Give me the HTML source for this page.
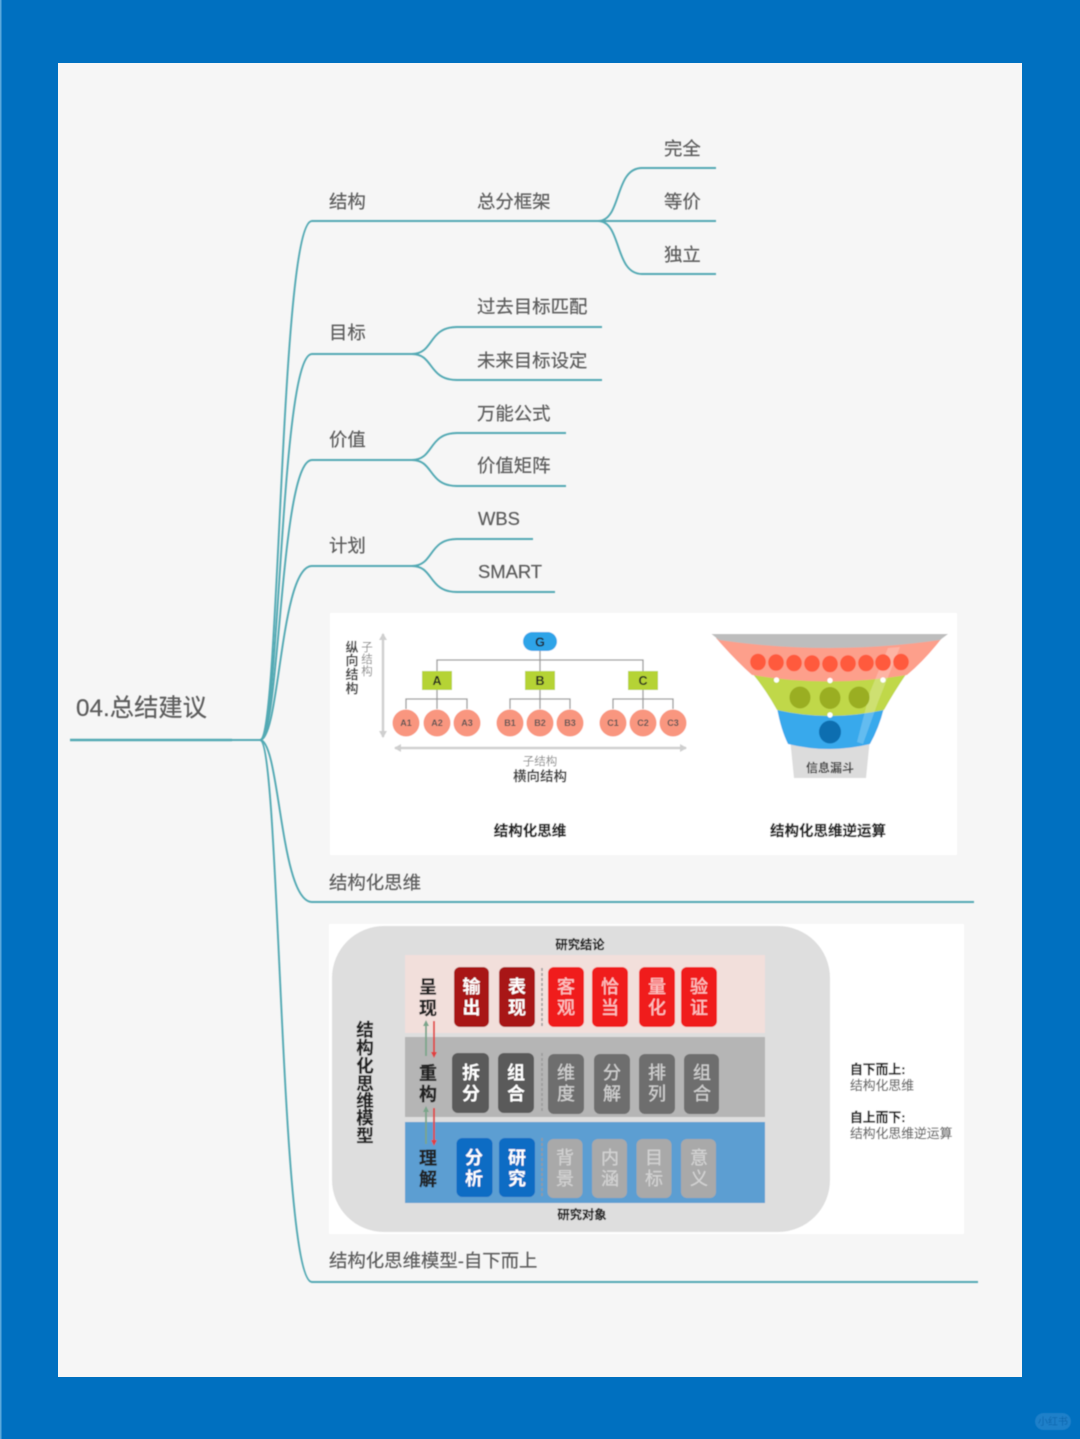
<!DOCTYPE html>
<html lang="zh">
<head>
<meta charset="utf-8">
<title>04.总结建议</title>
<style>
html,body{margin:0;padding:0;background:#0070c0;}
svg{display:block;}
text{font-family:"Liberation Sans","Noto Sans CJK SC",sans-serif;}
.n{font-size:18.4px;fill:#5c5c5c;stroke:#5c5c5c;stroke-width:.2px;}
.b{filter:url(#bl);}
.t{font-size:18px;font-weight:700;text-anchor:middle;fill:#fff;}
.pr{font-weight:400;fill:#fbc4c4;stroke:#fbc4c4;stroke-width:.25px;}
.pg{font-weight:400;fill:#cfcfcf;stroke:#cfcfcf;stroke-width:.25px;}
.pl{font-weight:400;fill:#d2d2d2;stroke:#d2d2d2;stroke-width:.25px;}
.l{font-size:18px;font-weight:700;text-anchor:middle;fill:#222;stroke:#222;stroke-width:.3px;}
.o{font-size:9px;font-weight:700;text-anchor:middle;fill:#555;}
.ln{fill:none;stroke:#52a9b3;stroke-width:1.9;}
.h{font-weight:700;fill:#222;text-anchor:middle;stroke:#222;stroke-width:.2px;}
</style>
</head>
<body>
<svg xmlns="http://www.w3.org/2000/svg" width="1080" height="1439" viewBox="0 0 1080 1439">
<defs>
<filter id="bl" x="-5%" y="-5%" width="110%" height="110%"><feGaussianBlur stdDeviation="0.65"/></filter>
</defs>
<rect width="1080" height="1439" fill="#0070c0"/>
<rect x="0" y="0" width="1.5" height="1439" fill="#5aa8dc"/>
<rect x="58" y="63" width="964" height="1314" fill="#f6f6f6"/>

<g class="b">
<!-- connectors -->
<path class="ln" d="M70 740H232" style="stroke-width:2.4"/>
<path class="ln" d="M232 740H260"/>
<path class="ln" d="M260 740C280 740 280 221 312 221H600"/>
<path class="ln" d="M260 740C280 740 280 354 312 354H414"/>
<path class="ln" d="M260 740C280 740 280 460 312 460H414"/>
<path class="ln" d="M260 740C280 740 280 566 312 566H414"/>
<path class="ln" d="M260 740C280 740 280 902 312 902H974"/>
<path class="ln" d="M260 740C280 740 280 1282 312 1282H978"/>
<path class="ln" d="M598 221C622 221 614 168 642 168H716"/>
<path class="ln" d="M598 221H716"/>
<path class="ln" d="M598 221C622 221 614 274 642 274H716"/>
<path class="ln" d="M412 354C434 354 428 327 457 327H602"/>
<path class="ln" d="M412 354C434 354 428 380 457 380H602"/>
<path class="ln" d="M412 460C434 460 428 433 457 433H566"/>
<path class="ln" d="M412 460C434 460 428 486 457 486H566"/>
<path class="ln" d="M412 566C434 566 428 539 457 539H533"/>
<path class="ln" d="M412 566C434 566 428 592 457 592H555"/>

<!-- labels -->
<text x="76" y="716" style="font-size:24.3px;fill:#5c5c5c;stroke:#5c5c5c;stroke-width:.2px">04.总结建议</text>
<text class="n" x="329" y="208">结构</text>
<text class="n" x="477" y="208">总分框架</text>
<text class="n" x="664" y="155">完全</text>
<text class="n" x="664" y="208">等价</text>
<text class="n" x="664" y="261">独立</text>
<text class="n" x="329" y="339">目标</text>
<text class="n" x="477" y="313">过去目标匹配</text>
<text class="n" x="477" y="367">未来目标设定</text>
<text class="n" x="329" y="446">价值</text>
<text class="n" x="477" y="420">万能公式</text>
<text class="n" x="477" y="472">价值矩阵</text>
<text class="n" x="329" y="552">计划</text>
<text class="n" x="478" y="525">WBS</text>
<text class="n" x="478" y="578">SMART</text>
<text class="n" x="329" y="889">结构化思维</text>
<text class="n" x="329" y="1267">结构化思维模型-自下而上</text>

<!-- image 1 -->
<rect x="330" y="613" width="627" height="242" fill="#fff"/>
<g fill="none" stroke="#9a9a9a" stroke-width="1.3">
<path d="M540 651V671M437 671V660H643V671"/>
<path d="M437 690V709M406 709V699H467V709"/>
<path d="M540 690V709M510 709V699H570V709"/>
<path d="M643 690V709M613 709V699H673V709"/>
</g>
<rect x="523" y="632" width="34" height="19" rx="9.5" fill="#2ea4e8"/>
<text x="540" y="646.5" style="font-size:12.5px;font-weight:700;fill:#222;text-anchor:middle">G</text>
<g fill="#b5d334">
<rect x="422" y="671" width="30" height="19"/>
<rect x="525" y="671" width="30" height="19"/>
<rect x="628" y="671" width="30" height="19"/>
</g>
<g style="font-size:12.5px;font-weight:700;fill:#222;text-anchor:middle">
<text x="437" y="685">A</text><text x="540" y="685">B</text><text x="643" y="685">C</text>
</g>
<g fill="#f9967f">
<circle cx="406" cy="723" r="13.5"/><circle cx="437" cy="723" r="13.5"/><circle cx="467" cy="723" r="13.5"/>
<circle cx="510" cy="723" r="13.5"/><circle cx="540" cy="723" r="13.5"/><circle cx="570" cy="723" r="13.5"/>
<circle cx="613" cy="723" r="13.5"/><circle cx="643" cy="723" r="13.5"/><circle cx="673" cy="723" r="13.5"/>
</g>
<g>
<text class="o" x="406" y="726">A1</text><text class="o" x="437" y="726">A2</text><text class="o" x="467" y="726">A3</text>
<text class="o" x="510" y="726">B1</text><text class="o" x="540" y="726">B2</text><text class="o" x="570" y="726">B3</text>
<text class="o" x="613" y="726">C1</text><text class="o" x="643" y="726">C2</text><text class="o" x="673" y="726">C3</text>
</g>
<path d="M383 634V737" stroke="#cfcfcf" stroke-width="2.5"/>
<path d="M379 640L383 633L387 640ZM379 731L383 738L387 731Z" fill="#cfcfcf"/>
<path d="M395 748H686" stroke="#cfcfcf" stroke-width="2.5"/>
<path d="M401 744L394 748L401 752ZM680 744L687 748L680 752Z" fill="#cfcfcf"/>
<g style="font-size:13px;font-weight:700;fill:#444;text-anchor:middle">
<text x="352" y="652">纵</text><text x="352" y="665">向</text><text x="352" y="679">结</text><text x="352" y="693">构</text>
</g>
<g style="font-size:11.500px;fill:#888;text-anchor:middle">
<text x="367" y="651">子</text><text x="367" y="663">结</text><text x="367" y="675">构</text>
<text x="540" y="765">子结构</text>
</g>
<text x="540" y="781" style="font-size:13.500px;fill:#444;font-weight:700;text-anchor:middle">横向结构</text>
<text class="h" x="530" y="836" style="font-size:14.500px">结构化思维</text>
<text class="h" x="828" y="836" style="font-size:14.500px">结构化思维逆运算</text>

<!-- funnel -->
<path d="M790 738Q829 752 870 738L866 778H794Z" fill="#dcdcdc"/>
<path d="M777 708Q781 730 788 744Q829 754 870 744Q879 728 884 708Q829 722 777 708Z" fill="#38a9ec"/>
<path d="M752 673Q766 690 777 710Q829 722 884 710Q894 692 907 673Q829 688 752 673Z" fill="#c0d84a"/>
<path d="M716 638Q735 660 752 675Q829 688 907 675Q925 660 942 638Z" fill="#fd9f8b"/>
<path d="M711.500 634H948L940 640Q829 656 719 640Z" fill="#bdbdbd"/>
<path d="M888 648L870 692L857 742L863 744L878 702L900 647Z" fill="#fff" opacity=".22"/>
<g fill="#ff5a3c">
<ellipse cx="758" cy="662" rx="7.800" ry="8.300"/><ellipse cx="776" cy="662.500" rx="7.800" ry="8.300"/><ellipse cx="794" cy="663" rx="7.800" ry="8.300"/>
<ellipse cx="812" cy="663.500" rx="7.800" ry="8.300"/><ellipse cx="830" cy="664" rx="7.800" ry="8.300"/><ellipse cx="848" cy="663.500" rx="7.800" ry="8.300"/>
<ellipse cx="866" cy="663" rx="7.800" ry="8.300"/><ellipse cx="883" cy="662.500" rx="7.800" ry="8.300"/><ellipse cx="901" cy="662" rx="7.800" ry="8.300"/>
</g>
<g fill="#9aae24">
<ellipse cx="800" cy="697.500" rx="10.500" ry="11"/><ellipse cx="830" cy="698" rx="10.500" ry="11"/><ellipse cx="859" cy="697.500" rx="10.500" ry="11"/>
</g>
<ellipse cx="830" cy="732" rx="11" ry="11.500" fill="#0a6eb0"/>
<g fill="#fff">
<circle cx="776.500" cy="680" r="2.700"/><circle cx="830" cy="680.500" r="2.700"/><circle cx="883" cy="680" r="2.700"/><circle cx="830" cy="715" r="2.700"/>
</g>
<text x="830" y="772" style="font-size:12px;font-weight:700;fill:#444;text-anchor:middle">信息漏斗</text>

<!-- image 2 -->
<rect x="329" y="924" width="635" height="310" fill="#fff"/>
<rect x="332" y="926" width="498" height="306" rx="52" fill="#dedede"/>
<rect x="405" y="955" width="360" height="78" fill="#f2dfdb"/>
<rect x="405" y="1037" width="360" height="80" fill="#b5b5b5"/>
<rect x="405" y="1122" width="360" height="81" fill="#5b9ed2"/>

<text class="h" x="580" y="949" style="font-size:12.300px">研究结论</text>
<text class="h" x="582" y="1219" style="font-size:12.300px">研究对象</text>

<g class="h" style="font-size:17.500px">
<text x="365" y="1036">结</text><text x="365" y="1054">构</text><text x="365" y="1072">化</text><text x="365" y="1090">思</text><text x="365" y="1107">维</text><text x="365" y="1124">模</text><text x="365" y="1142">型</text>
</g>

<text class="l" x="428" y="993.500">呈</text><text class="l" x="428" y="1014.500">现</text>
<text class="l" x="428" y="1079.500">重</text><text class="l" x="428" y="1100.500">构</text>
<text class="l" x="428" y="1164.500">理</text><text class="l" x="428" y="1185.500">解</text>

<g stroke-width="1.800" fill="none">
<path d="M426 1024V1056M426 1108V1144" stroke="#7aa58a"/>
<path d="M434 1021V1054M434 1108V1142" stroke="#e04040"/>
</g>
<path d="M423 1026L426 1020L429 1026ZM423 1112L426 1106L429 1112Z" fill="#7aa58a"/>
<path d="M431 1052L434 1058L437 1052ZM431 1140L434 1146L437 1140Z" fill="#e04040"/>
<g stroke="#999" stroke-width="1.500" stroke-dasharray="3 2">
<path d="M542 968V1026M542 1053V1112M542 1138V1196"/>
</g>

<!-- row 1 -->
<g fill="#a81818">
<rect x="454" y="967" width="35" height="60" rx="6"/><rect x="499" y="967" width="36" height="60" rx="6"/>
</g>
<g fill="#f01c1f">
<rect x="548" y="967" width="36" height="60" rx="6"/><rect x="592" y="967" width="36" height="60" rx="6"/>
<rect x="639" y="967" width="36" height="60" rx="6"/><rect x="681" y="967" width="36" height="60" rx="6"/>
</g>
<text class="t" x="471.500" y="993">输</text><text class="t" x="471.500" y="1014">出</text>
<text class="t" x="517" y="993">表</text><text class="t" x="517" y="1014">现</text>
<text class="t pr" x="566" y="993">客</text><text class="t pr" x="566" y="1014">观</text>
<text class="t pr" x="610" y="993">恰</text><text class="t pr" x="610" y="1014">当</text>
<text class="t pr" x="657" y="993">量</text><text class="t pr" x="657" y="1014">化</text>
<text class="t pr" x="699" y="993">验</text><text class="t pr" x="699" y="1014">证</text>

<!-- row 2 -->
<g fill="#5a5a5a">
<rect x="452" y="1053" width="37" height="60" rx="6"/><rect x="498" y="1053" width="36" height="60" rx="6"/>
</g>
<g fill="#6e6e6e">
<rect x="548" y="1054" width="36" height="60" rx="6"/><rect x="594" y="1054" width="36" height="60" rx="6"/>
<rect x="639" y="1054" width="36" height="60" rx="6"/><rect x="684" y="1054" width="35" height="60" rx="6"/>
</g>
<text class="t" x="471" y="1079">拆</text><text class="t" x="471" y="1100">分</text>
<text class="t" x="516" y="1079">组</text><text class="t" x="516" y="1100">合</text>
<text class="t pg" x="566" y="1079">维</text><text class="t pg" x="566" y="1100">度</text>
<text class="t pg" x="612" y="1079">分</text><text class="t pg" x="612" y="1100">解</text>
<text class="t pg" x="657" y="1079">排</text><text class="t pg" x="657" y="1100">列</text>
<text class="t pg" x="702" y="1079">组</text><text class="t pg" x="702" y="1100">合</text>

<!-- row 3 -->
<g fill="#0a6cc4">
<rect x="456.500" y="1138" width="36" height="59" rx="6"/><rect x="499" y="1138" width="36" height="59" rx="6"/>
</g>
<g fill="#a9a9a9">
<rect x="547.500" y="1139" width="35" height="59" rx="6"/><rect x="592" y="1139" width="35" height="59" rx="6"/>
<rect x="636.500" y="1139" width="35" height="59" rx="6"/><rect x="681" y="1139" width="35" height="59" rx="6"/>
</g>
<text class="t" x="474" y="1164">分</text><text class="t" x="474" y="1185">析</text>
<text class="t" x="517" y="1164">研</text><text class="t" x="517" y="1185">究</text>
<text class="t pl" x="565" y="1164">背</text><text class="t pl" x="565" y="1185">景</text>
<text class="t pl" x="610" y="1164">内</text><text class="t pl" x="610" y="1185">涵</text>
<text class="t pl" x="654" y="1164">目</text><text class="t pl" x="654" y="1185">标</text>
<text class="t pl" x="699" y="1164">意</text><text class="t pl" x="699" y="1185">义</text>

<text x="850" y="1074" style="font-size:12.800px;font-weight:700;fill:#222;stroke:#222;stroke-width:.2px">自下而上:</text>
<text x="850" y="1090" style="font-size:12.800px;fill:#666;stroke:#666;stroke-width:.15px">结构化思维</text>
<text x="850" y="1122" style="font-size:12.800px;font-weight:700;fill:#222;stroke:#222;stroke-width:.2px">自上而下:</text>
<text x="850" y="1138" style="font-size:12.800px;fill:#666;stroke:#666;stroke-width:.15px">结构化思维逆运算</text>

<!-- watermark -->
<rect x="1035" y="1413" width="36" height="17" rx="8.500" fill="#2a86cc" opacity=".75"/>
<text x="1053" y="1425" style="font-size:10px;fill:#0b66ad;text-anchor:middle">小红书</text>
</g>
</svg>
</body>
</html>
